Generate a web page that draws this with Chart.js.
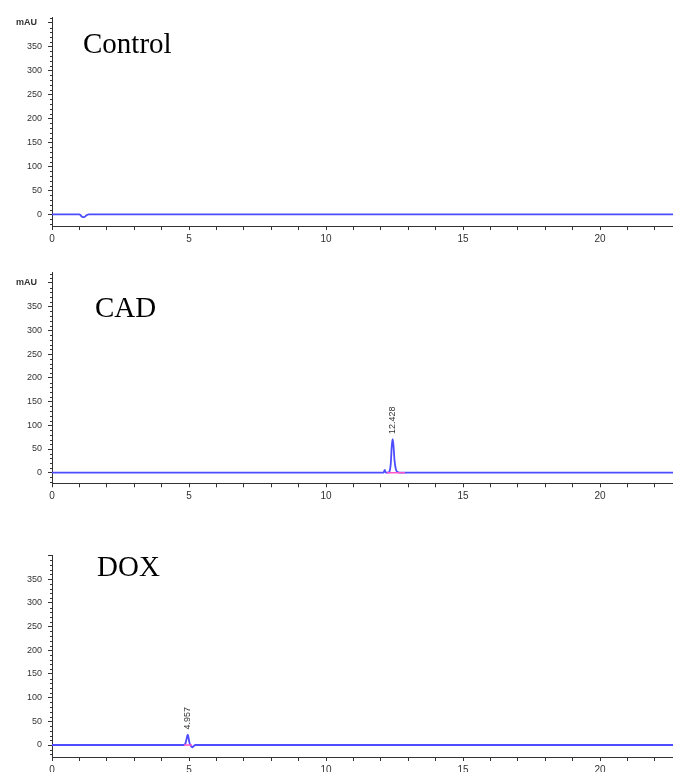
<!DOCTYPE html>
<html>
<head>
<meta charset="utf-8">
<title>HPLC chromatograms</title>
<script src="https://cdn.jsdelivr.net/npm/chart.js@4.4.1/dist/chart.umd.min.js"></script>
<style>
    html, body { margin: 0; padding: 0; background: #fff; overflow: hidden; }
    body { width: 673px; height: 772px; position: relative; }
    canvas { position: absolute; left: 0; }
    .title {
        position: absolute;
        font-family: "Liberation Serif", "Times New Roman", serif;
        font-size: 29px;
        line-height: 29px;
        color: #000;
        white-space: nowrap;
    }
</style>
</head>
<body>
<canvas id="chart-control" width="673" height="255" style="top:0px"></canvas>
<canvas id="chart-cad" width="673" height="265" style="top:255px"></canvas>
<canvas id="chart-dox" width="673" height="250" style="top:530px"></canvas>
<div class="title" id="title-control" style="left:83px; top:29px"></div>
<div class="title" id="title-cad" style="left:95px; top:293px"></div>
<div class="title" id="title-dox" style="left:97px; top:552px"></div>

<script>
// retention time (min) and detector signal (mAU)
const controlTime = [0, 1.0, 1.06, 1.12, 1.2, 1.26, 1.34, 23];
const controlSignal = [0, 0, -3, -6, -5, -2, 0, 0];

const cadTime = [0, 12.1, 12.14, 12.18, 12.25, 12.31, 12.36, 12.4, 12.43, 12.46, 12.5, 12.55, 12.63, 12.75, 23];
const cadSignal = [0, 0, 6, 0, 0, 2, 18, 58, 71, 58, 25, 7, 1, 0, 0];
const cadBaselineTime = [12.22, 12.88];
const cadPeakTimes = [12.428];

const doxTime = [0, 4.8, 4.86, 4.9, 4.94, 4.957, 4.98, 5.02, 5.07, 5.12, 5.17, 5.24, 23];
const doxSignal = [0, 0, 2, 10, 20, 22, 16, 4, -2, -5, -2, 0, 0];
const doxBaselineTime = [4.82, 5.11];
const doxPeakTimes = [4.957];

const xLabelValues = [0, 5, 10, 15, 20];
const yLabelValues = [0, 50, 100, 150, 200, 250, 300, 350, 400];
const panelNames = ["Control", "CAD", "DOX"];

const traceColor = "#4d4dff";
const baselineColor = "#ff55cc";
const axisColor = "#333";
const labelColor = "#333";
const tickFont = { family: "'Liberation Sans', Arial, sans-serif", size: 9 };

function toPoints(times, values) {
    return times.map((t, i) => ({ x: t, y: values[i] }));
}

function traceDataset(times, values) {
    return {
        data: toPoints(times, values),
        borderColor: traceColor,
        borderWidth: 1.8,
        pointRadius: 0,
        cubicInterpolationMode: "monotone",
        order: 2,
    };
}

function baselineDataset(times) {
    return {
        data: times.map((t) => ({ x: t, y: 0 })),
        borderColor: baselineColor,
        borderWidth: 1.5,
        pointRadius: 0,
        order: 1,
    };
}

// minor y ticks, the mAU unit and the rotated retention-time labels
const chromExtras = {
    id: "chromExtras",
    afterDraw(chart, args, opts) {
        const { ctx, chartArea, scales } = chart;
        const xs = scales.x;
        const ys = scales.y;
        ctx.save();
        ctx.strokeStyle = axisColor;
        ctx.lineWidth = 1;
        ys.ticks.forEach((t) => {
            if (yLabelValues.includes(t.value)) return;
            const py = Math.round(ys.getPixelForValue(t.value)) + 0.5;
            ctx.beginPath();
            ctx.moveTo(chartArea.left - 2, py);
            ctx.lineTo(chartArea.left, py);
            ctx.stroke();
        });

        ctx.fillStyle = labelColor;
        if (opts.showUnit) {
            ctx.font = "bold 9px 'Liberation Sans', Arial, sans-serif";
            ctx.textAlign = "right";
            ctx.textBaseline = "middle";
            ctx.fillText("mAU", chartArea.left - 15, ys.getPixelForValue(400));
        }

        (opts.peakTimes || []).forEach((pt) => {
            const px = xs.getPixelForValue(pt);
            const py = ys.getPixelForValue(opts.peakHeight) - 5;
            ctx.save();
            ctx.translate(px, py);
            ctx.rotate(-Math.PI / 2);
            ctx.font = "9px 'Liberation Sans', Arial, sans-serif";
            ctx.textAlign = "left";
            ctx.textBaseline = "middle";
            ctx.fillText(pt.toFixed(3), 0, 0);
            ctx.restore();
        });
        ctx.restore();
    },
};

function makeChromatogram(canvasId, datasets, yMin, yMax, layout, extras) {
    const ctx = document.getElementById(canvasId)?.getContext("2d");
    if (!ctx) {
        console.error("Canvas #" + canvasId + " not found");
        return null;
    }
    return new Chart(ctx, {
        type: "line",
        data: { datasets: datasets },
        options: {
            responsive: false,
            animation: false,
            layout: { padding: { top: layout.top, left: 0, right: 0, bottom: 0 } },
            plugins: {
                legend: { display: false },
                tooltip: { enabled: false },
                chromExtras: extras,
            },
            scales: {
                x: {
                    type: "linear",
                    min: 0,
                    max: 22.66,
                    afterFit: (scale) => { scale.height = layout.xHeight; },
                    border: { display: true, color: axisColor, width: 1 },
                    grid: { drawOnChartArea: false, tickLength: 4, color: axisColor },
                    ticks: {
                        stepSize: 1,
                        autoSkip: false,
                        includeBounds: false,
                        maxRotation: 0,
                        padding: 3,
                        color: labelColor,
                        font: { family: tickFont.family, size: 10 },
                        callback: (v) => (xLabelValues.includes(v) ? String(v) : ""),
                    },
                },
                y: {
                    type: "linear",
                    min: yMin,
                    max: yMax,
                    afterFit: (scale) => { scale.width = 52; },
                    border: { display: true, color: axisColor, width: 1 },
                    grid: {
                        drawOnChartArea: false,
                        tickLength: 4,
                        color: (c) => (c.tick && yLabelValues.includes(c.tick.value) ? axisColor : "rgba(0,0,0,0)"),
                    },
                    ticks: {
                        stepSize: 10,
                        autoSkip: false,
                        includeBounds: false,
                        padding: 6,
                        color: labelColor,
                        font: tickFont,
                        callback: (v) => (yLabelValues.includes(v) && v !== 400 ? String(v) : ""),
                    },
                },
            },
        },
        plugins: [chromExtras],
    });
}

["title-control", "title-cad", "title-dox"].forEach((id, i) => {
    document.getElementById(id).textContent = panelNames[i];
});

makeChromatogram(
    "chart-control",
    [traceDataset(controlTime, controlSignal)],
    -24.4, 412,
    { top: 17, xHeight: 29 },
    { showUnit: true, peakTimes: [] }
);

makeChromatogram(
    "chart-cad",
    [traceDataset(cadTime, cadSignal), baselineDataset(cadBaselineTime)],
    -22.3, 421.7,
    { top: 17.7, xHeight: 36.7 },
    { showUnit: true, peakTimes: cadPeakTimes, peakHeight: Math.max(...cadSignal) }
);

makeChromatogram(
    "chart-dox",
    [traceDataset(doxTime, doxSignal), baselineDataset(doxBaselineTime)],
    -25.3, 401,
    { top: 25, xHeight: 23 },
    { showUnit: false, peakTimes: doxPeakTimes, peakHeight: Math.max(...doxSignal) }
);
</script>
</body>
</html>
